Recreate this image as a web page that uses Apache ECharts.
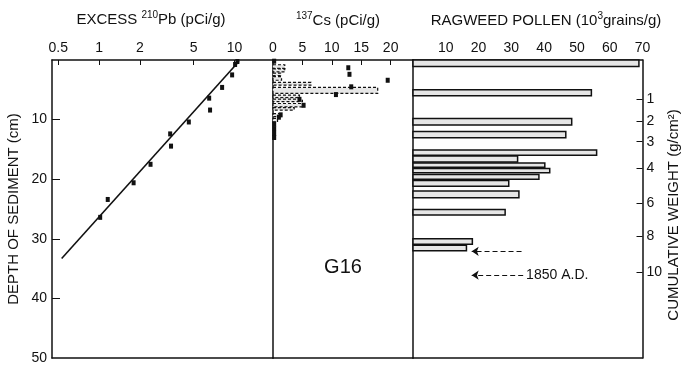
<!DOCTYPE html>
<html>
<head>
<meta charset="utf-8">
<script src="https://cdn.jsdelivr.net/npm/echarts@6/dist/echarts.min.js"></script>
<style>
  html, body { margin: 0; padding: 0; background: #fff; }
  #chart { width: 682px; height: 366px; }
</style>
</head>
<body>
<div id="chart"></div>
<script>
// Core G16: excess 210Pb, 137Cs and ragweed pollen against sediment depth

// Excess 210Pb (log scale, pCi/g)
const pbTicks = [0.5, 1, 2, 5, 10];
const pbDepth = [0.25, 0.75, 2.5, 4.6, 6.4, 8.4, 10.4, 12.4, 14.45, 17.5, 20.6, 23.4, 26.4];
const pbActivity = [10.5, 10.1, 9.6, 8.1, 6.5, 6.6, 4.6, 3.35, 3.4, 2.4, 1.8, 1.16, 1.02];
const pbFitDepth = [0.2, 33.3];
const pbFitActivity = [10.8, 0.53];

// 137Cs (pCi/g): interval bars and individual measurements
const csTicks = [0, 5, 10, 15, 20];
const csBarTop = [0.8, 1.5, 2.2, 2.8, 3.75, 4.6, 5.9, 6.55, 7.3, 8.0, 9.0, 9.8];
const csBarBottom = [1.4, 2.0, 2.6, 3.4, 4.2, 5.6, 6.3, 7.0, 7.85, 8.4, 9.5, 10.4];
const csBarValue = [2.0, 2.0, 1.3, 1.45, 6.45, 17.8, 4.5, 5.0, 5.2, 3.6, 1.3, 0.77];
const csPointDepth = [0.2, 1.3, 2.4, 3.4, 4.5, 5.8, 6.6, 7.6, 9.2, 9.6, 10.7, 11.5, 12.3, 13.0];
const csPointValue = [0.2, 12.8, 13.0, 19.5, 13.3, 10.7, 4.5, 5.2, 1.3, 1.0, 0.2, 0.2, 0.2, 0.2];

// Ragweed pollen (10^3 grains/g)
const pollenTicks = [10, 20, 30, 40, 50, 60, 70];
const pollenTop = [0, 5.0, 9.8, 12.0, 15.1, 16.1, 17.3, 18.2, 19.2, 20.2, 22.0, 25.1, 30.0, 31.1];
const pollenBottom = [1.1, 6.0, 10.9, 13.05, 16.0, 17.1, 18.0, 18.9, 20.0, 21.2, 23.1, 26.0, 30.9, 32.0];
const pollenValue = [68.9, 54.4, 48.4, 46.6, 56.0, 31.9, 40.2, 41.7, 38.4, 29.2, 32.3, 28.1, 18.1, 16.3];

// Cumulative weight scale (g/cm^2) and the depths where each value falls
const weightLabels = [1, 2, 3, 4, 6, 8, 10];
const weightDepth = [6.55, 10.2, 13.7, 18.2, 24.1, 29.6, 35.6];

// 1850 A.D. markers
const arrowDepth = [32.1, 36.1];
const arrowFrom = [33.1, 33.6];
const arrowTo = [17.9, 17.9];
const markerText = '1850 A.D.';
const markerTextAt = [34.5, 36.1];

const depthTicks = [0, 10, 20, 30, 40, 50];

const FONT = 'Liberation Sans';
const INK = '#111';

const log10 = Math.log10;
const pbTickPos = pbTicks.map(log10);

function intervalBars(tops, bottoms, values, dashed) {
  return {
    type: 'custom',
    data: values.map((v, i) => [tops[i], bottoms[i], v]),
    renderItem: function (params, api) {
      const p0 = api.coord([0, api.value(0)]);
      const p1 = api.coord([api.value(2), api.value(1)]);
      return {
        type: 'rect',
        shape: { x: p0[0], y: p0[1], width: p1[0] - p0[0], height: p1[1] - p0[1] },
        style: {
          fill: '#e6e6e6',
          stroke: INK,
          lineWidth: dashed ? 1.2 : 1.5,
          lineDash: dashed ? [3, 2] : null
        }
      };
    }
  };
}

const axisLineStyle = { onZero: false, lineStyle: { color: INK, width: 1.5 } };
const labelStyle = { color: INK, fontFamily: FONT, fontSize: 14 };
const nameStyle = { color: INK, fontFamily: FONT, fontSize: 15 };
const borderAxis = { axisLine: axisLineStyle, axisTick: { show: false }, axisLabel: { show: false }, splitLine: { show: false } };
const titleRich = {
  a: { fontFamily: FONT, fontSize: 15, fill: INK, lineHeight: 19 },
  s: { fontFamily: FONT, fontSize: 10, fill: INK, verticalAlign: 'top', lineHeight: 12 }
};

const chart = echarts.init(document.getElementById('chart'), null, { renderer: 'canvas' });

chart.setOption({
  animation: false,
  backgroundColor: '#fff',
  grid: [
    { left: 52, top: 60, width: 221, height: 298 },
    { left: 273, top: 60, width: 140, height: 298 },
    { left: 413, top: 60, width: 233, height: 298 }
  ],
  xAxis: [
    {
      gridIndex: 0, type: 'value', position: 'top',
      min: -0.347, max: 1.284,
      axisLine: axisLineStyle,
      axisTick: { inside: true, length: 5, customValues: pbTickPos, lineStyle: { color: INK } },
      axisLabel: Object.assign({}, labelStyle, {
        margin: 5,
        customValues: pbTickPos,
        formatter: v => String(pbTicks[pbTickPos.findIndex(t => Math.abs(t - v) < 1e-6)])
      }),
      splitLine: { show: false }
    },
    {
      gridIndex: 1, type: 'value', position: 'top',
      min: 0, max: 23.8,
      axisLine: axisLineStyle,
      axisTick: { inside: true, length: 5, customValues: csTicks.slice(1), lineStyle: { color: INK } },
      axisLabel: Object.assign({}, labelStyle, { margin: 5, customValues: csTicks }),
      splitLine: { show: false }
    },
    {
      gridIndex: 2, type: 'value', position: 'top',
      min: 0, max: 70,
      axisLine: axisLineStyle,
      axisTick: { inside: true, length: 6, customValues: pollenTicks.slice(0, -1), lineStyle: { color: INK } },
      axisLabel: Object.assign({}, labelStyle, { margin: 5, customValues: pollenTicks }),
      splitLine: { show: false }
    },
    // plain bottom borders
    Object.assign({ gridIndex: 0, type: 'value', position: 'bottom', min: 0, max: 1 }, borderAxis),
    Object.assign({ gridIndex: 1, type: 'value', position: 'bottom', min: 0, max: 1 }, borderAxis),
    Object.assign({ gridIndex: 2, type: 'value', position: 'bottom', min: 0, max: 1 }, borderAxis)
  ],
  yAxis: [
    {
      gridIndex: 0, type: 'value', position: 'left', inverse: true, min: 0, max: 50,
      axisLine: axisLineStyle,
      axisTick: { inside: true, length: 8, customValues: depthTicks.slice(1, -1), lineStyle: { color: INK } },
      axisLabel: Object.assign({}, labelStyle, { margin: 5, customValues: depthTicks.slice(1) }),
      splitLine: { show: false },
      name: 'DEPTH OF SEDIMENT (cm)',
      nameLocation: 'middle', nameRotate: 90, nameGap: 31,
      nameTextStyle: nameStyle
    },
    Object.assign({ gridIndex: 1, type: 'value', position: 'left', inverse: true, min: 0, max: 50 }, borderAxis),
    Object.assign({ gridIndex: 2, type: 'value', position: 'left', inverse: true, min: 0, max: 50 }, borderAxis),
    {
      gridIndex: 2, type: 'value', position: 'right', inverse: true, min: 0, max: 50,
      axisLine: axisLineStyle,
      axisTick: { inside: true, length: 6, customValues: weightDepth, lineStyle: { color: INK } },
      axisLabel: Object.assign({}, labelStyle, {
        margin: 4,
        customValues: weightDepth,
        formatter: v => String(weightLabels[weightDepth.findIndex(d => Math.abs(d - v) < 1e-6)])
      }),
      splitLine: { show: false },
      name: 'CUMULATIVE WEIGHT (g/cm²)',
      nameLocation: 'middle', nameRotate: 90, nameGap: 19,
      nameTextStyle: Object.assign({}, nameStyle, { padding: [0, 12, 0, 0] })
    }
  ],
  series: [
    {
      type: 'line', xAxisIndex: 0, yAxisIndex: 0,
      data: pbFitDepth.map((d, i) => [log10(pbFitActivity[i]), d]),
      symbol: 'none',
      lineStyle: { color: INK, width: 1.6 },
      z: 2
    },
    {
      type: 'scatter', xAxisIndex: 0, yAxisIndex: 0,
      data: pbDepth.map((d, i) => [log10(pbActivity[i]), d]),
      symbol: 'rect', symbolSize: [4, 5],
      itemStyle: { color: INK, opacity: 1 },
      z: 3
    },
    Object.assign(intervalBars(csBarTop, csBarBottom, csBarValue, true), { xAxisIndex: 1, yAxisIndex: 1 }),
    {
      type: 'scatter', xAxisIndex: 1, yAxisIndex: 1,
      data: csPointDepth.map((d, i) => [csPointValue[i], d]),
      symbol: 'rect', symbolSize: [4, 5],
      itemStyle: { color: INK, opacity: 1 },
      z: 3
    },
    Object.assign(intervalBars(pollenTop, pollenBottom, pollenValue, false), { xAxisIndex: 2, yAxisIndex: 2 }),
    {
      type: 'lines', coordinateSystem: 'cartesian2d', xAxisIndex: 2, yAxisIndex: 2,
      data: arrowDepth.map((d, i) => ({ coords: [[arrowFrom[i], d], [arrowTo[i], d]] })),
      symbol: ['none', 'arrow'], symbolSize: 7,
      lineStyle: { color: INK, width: 1.2, type: [5, 3], opacity: 1 }
    },
    {
      type: 'scatter', xAxisIndex: 2, yAxisIndex: 2,
      data: [markerTextAt],
      symbolSize: 0,
      itemStyle: { opacity: 1 },
      label: {
        show: true, position: 'right', distance: 0,
        formatter: markerText,
        color: INK, fontFamily: FONT, fontSize: 14
      }
    }
  ],
  graphic: [
    {
      type: 'text', x: 151, y: 20,
      style: { text: '{a|EXCESS }{s|210}{a|Pb (pCi/g)}', align: 'center', verticalAlign: 'middle', rich: titleRich }
    },
    {
      type: 'text', x: 338, y: 21,
      style: { text: '{s|137}{a|Cs (pCi/g)}', align: 'center', verticalAlign: 'middle', rich: titleRich }
    },
    {
      type: 'text', x: 546, y: 21,
      style: { text: '{a|RAGWEED POLLEN (10}{s|3}{a|grains/g)}', align: 'center', verticalAlign: 'middle', rich: titleRich }
    },
    {
      type: 'text', x: 343, y: 267,
      style: { text: 'G16', align: 'center', verticalAlign: 'middle', fontFamily: FONT, fontSize: 20, fill: INK }
    }
  ]
});
</script>
</body>
</html>
